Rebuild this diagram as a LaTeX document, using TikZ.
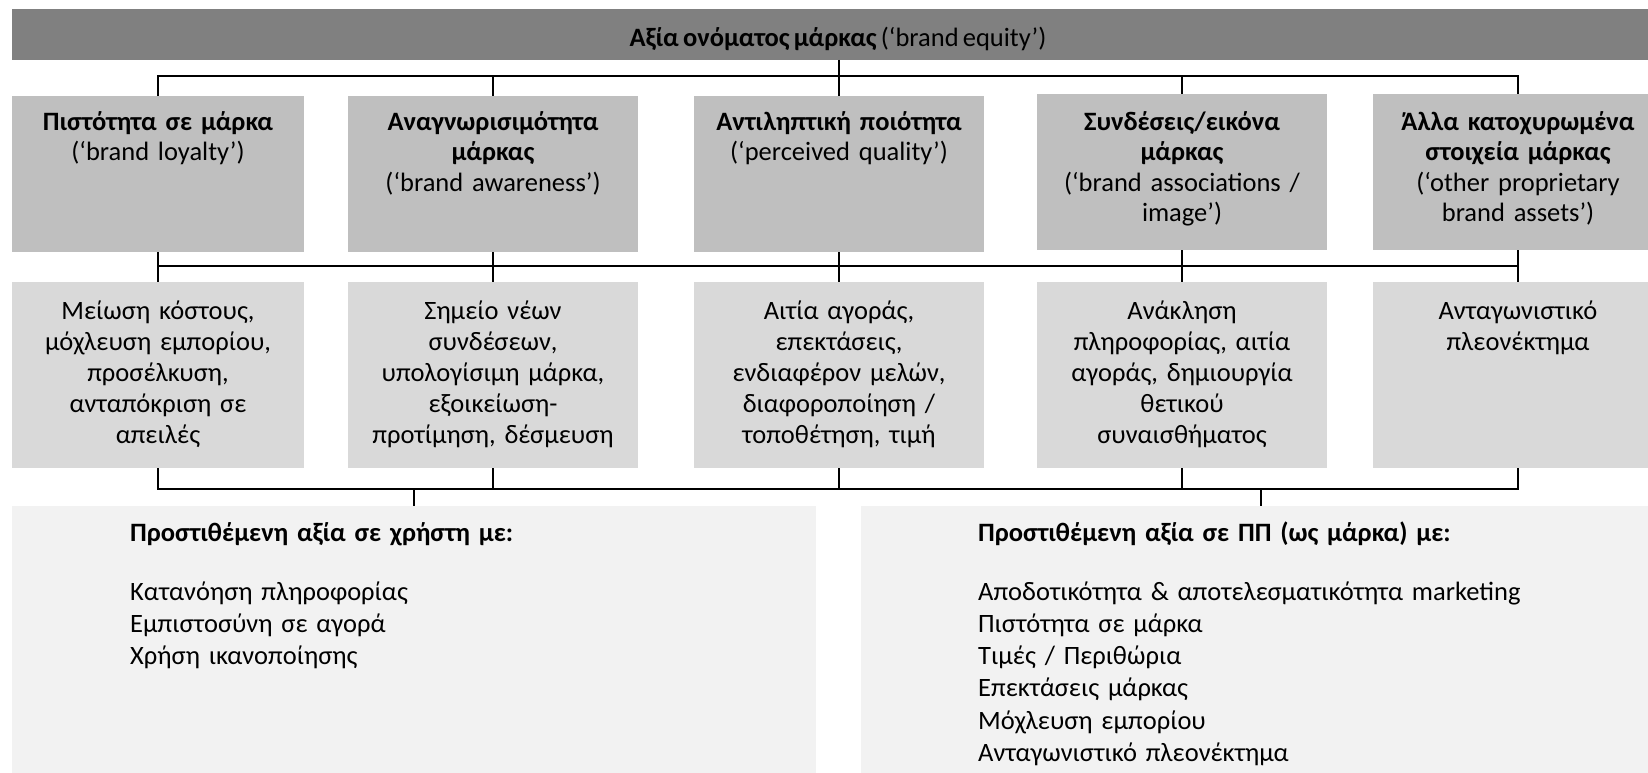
\documentclass[tikz,border=0pt]{standalone}
\usepackage{fontspec}
\setmainfont{Carlito}[WordSpace=0.7]
\definecolor{bannergray}{HTML}{808080}
\definecolor{boxdark}{HTML}{BFBFBF}
\definecolor{boxlight}{HTML}{D9D9D9}
\definecolor{panelgray}{HTML}{F2F2F2}
\begin{document}
\begin{tikzpicture}[x=1pt,y=-1pt,
  panel/.style={draw=none,inner sep=0pt,outer sep=0pt,rectangle},
  topbox/.style={panel,fill=boxdark,minimum width=290pt,minimum height=156pt},
  lowbox/.style={panel,fill=boxlight,minimum width=290pt,minimum height=186pt},
  rowtext/.style={anchor=base,align=center,text width=290pt,inner sep=0pt,font=\fontsize{26.5}{30.5}\selectfont},
  lowtext/.style={anchor=base,align=center,text width=290pt,inner sep=0pt,font=\fontsize{26.5}{31}\selectfont},
  listtext/.style={anchor=base west,align=left,text width=620pt,inner sep=0pt,font=\fontsize{26.5}{32.3}\selectfont},
  conn/.style={draw=black,line width=2.8pt,line join=miter}]
\useasboundingbox (0,0) rectangle (1648,773);
\clip (0,0) rectangle (1648,773);

% banner
\node[panel,fill=bannergray,minimum width=1652pt,minimum height=51pt] (banner) at (838,34.5) {};
\node[anchor=base,inner sep=0pt,font=\fontsize{26.5}{30}\selectfont] (bannertext) at (838,47)
  {\textbf{Αξία ονόματος μάρκας} (‘brand equity’)};

% first row
\node[topbox,minimum width=292pt] (b1) at (158,174) {};
\node[topbox] (b2) at (493,174) {};
\node[topbox] (b3) at (839,174) {};
\node[topbox] (b4) at (1182,172) {};
\node[topbox] (b5) at (1518,172) {};

\node[rowtext] (t1) at (158,130.5) {\textbf{Πιστότητα σε μάρκα}\\(‘brand loyalty’)};
\node[rowtext] (t2) at (493,130.5) {\textbf{Αναγνωρισιμότητα}\\\textbf{μάρκας}\\(‘brand awareness’)};
\node[rowtext] (t3) at (839,130.5) {\textbf{Αντιληπτική ποιότητα}\\(‘perceived quality’)};
\node[rowtext] (t4) at (1182,130.5) {\textbf{Συνδέσεις/εικόνα}\\\textbf{μάρκας}\\(‘brand associations /\\image’)};
\node[rowtext] (t5) at (1518,130.5) {\textbf{Άλλα κατοχυρωμένα}\\\textbf{στοιχεία μάρκας}\\(‘other proprietary\\brand assets’)};

% second row
\node[lowbox,minimum width=292pt] (c1) at (158,375) {};
\node[lowbox] (c2) at (493,375) {};
\node[lowbox] (c3) at (839,375) {};
\node[lowbox] (c4) at (1182,375) {};
\node[lowbox] (c5) at (1518,375) {};

\node[lowtext] (u1) at (158,319) {Μείωση κόστους,\\μόχλευση εμπορίου,\\προσέλκυση,\\ανταπόκριση σε\\απειλές};
\node[lowtext] (u2) at (493,319) {Σημείο νέων\\συνδέσεων,\\υπολογίσιμη μάρκα,\\εξοικείωση-\\προτίμηση, δέσμευση};
\node[lowtext] (u3) at (839,319) {Αιτία αγοράς,\\επεκτάσεις,\\ενδιαφέρον μελών,\\διαφοροποίηση /\\τοποθέτηση, τιμή};
\node[lowtext] (u4) at (1182,319) {Ανάκληση\\πληροφορίας, αιτία\\αγοράς, δημιουργία\\θετικού\\συναισθήματος};
\node[lowtext] (u5) at (1518,319) {Ανταγωνιστικό\\πλεονέκτημα};

% bottom panels
\node[panel,fill=panelgray,minimum width=804pt,minimum height=270pt] (pL) at (414,641) {};
\node[panel,fill=panelgray,minimum width=800pt,minimum height=270pt] (pR) at (1261,641) {};

\node[listtext] (hL) at (130,541) {\textbf{Προστιθέμενη αξία σε χρήστη με:}};
\node[listtext] (lL) at (130,600) {Κατανόηση πληροφορίας\\Εμπιστοσύνη σε αγορά\\Χρήση ικανοποίησης};
\node[listtext] (hR) at (978,541) {\textbf{Προστιθέμενη αξία σε ΠΠ (ως μάρκα) με:}};
\node[listtext] (lR) at (978,600) {Αποδοτικότητα \& αποτελεσματικότητα marketing\\Πιστότητα σε μάρκα\\Τιμές / Περιθώρια\\Επεκτάσεις μάρκας\\Μόχλευση εμπορίου\\Ανταγωνιστικό πλεονέκτημα};

% bus coordinates
\coordinate (topbus) at (0,76);
\coordinate (midbus) at (0,266);
\coordinate (botbus) at (0,489);

% connectors: banner to first row
\draw[conn] (banner.south -| b3.north) -- (b3.north);
\draw[conn] (b1.north) -- (b1.north |- topbus) -- (b5.north |- topbus) -- (b5.north);
\draw[conn] (b2.north) -- (b2.north |- topbus);
\draw[conn] (b4.north) -- (b4.north |- topbus);

% first row to second row
\foreach \i in {1,...,5} {\draw[conn] (b\i.south) -- (c\i.north);}
\draw[conn] (b1.south |- midbus) -- (b5.south |- midbus);

% second row to bottom panels
\draw[conn] (c1.south) -- (c1.south |- botbus) -- (c5.south |- botbus) -- (c5.south);
\foreach \i in {2,3,4} {\draw[conn] (c\i.south) -- (c\i.south |- botbus);}
\draw[conn] (pL.north |- botbus) -- (pL.north);
\draw[conn] (pR.north |- botbus) -- (pR.north);
\end{tikzpicture}
\end{document}
